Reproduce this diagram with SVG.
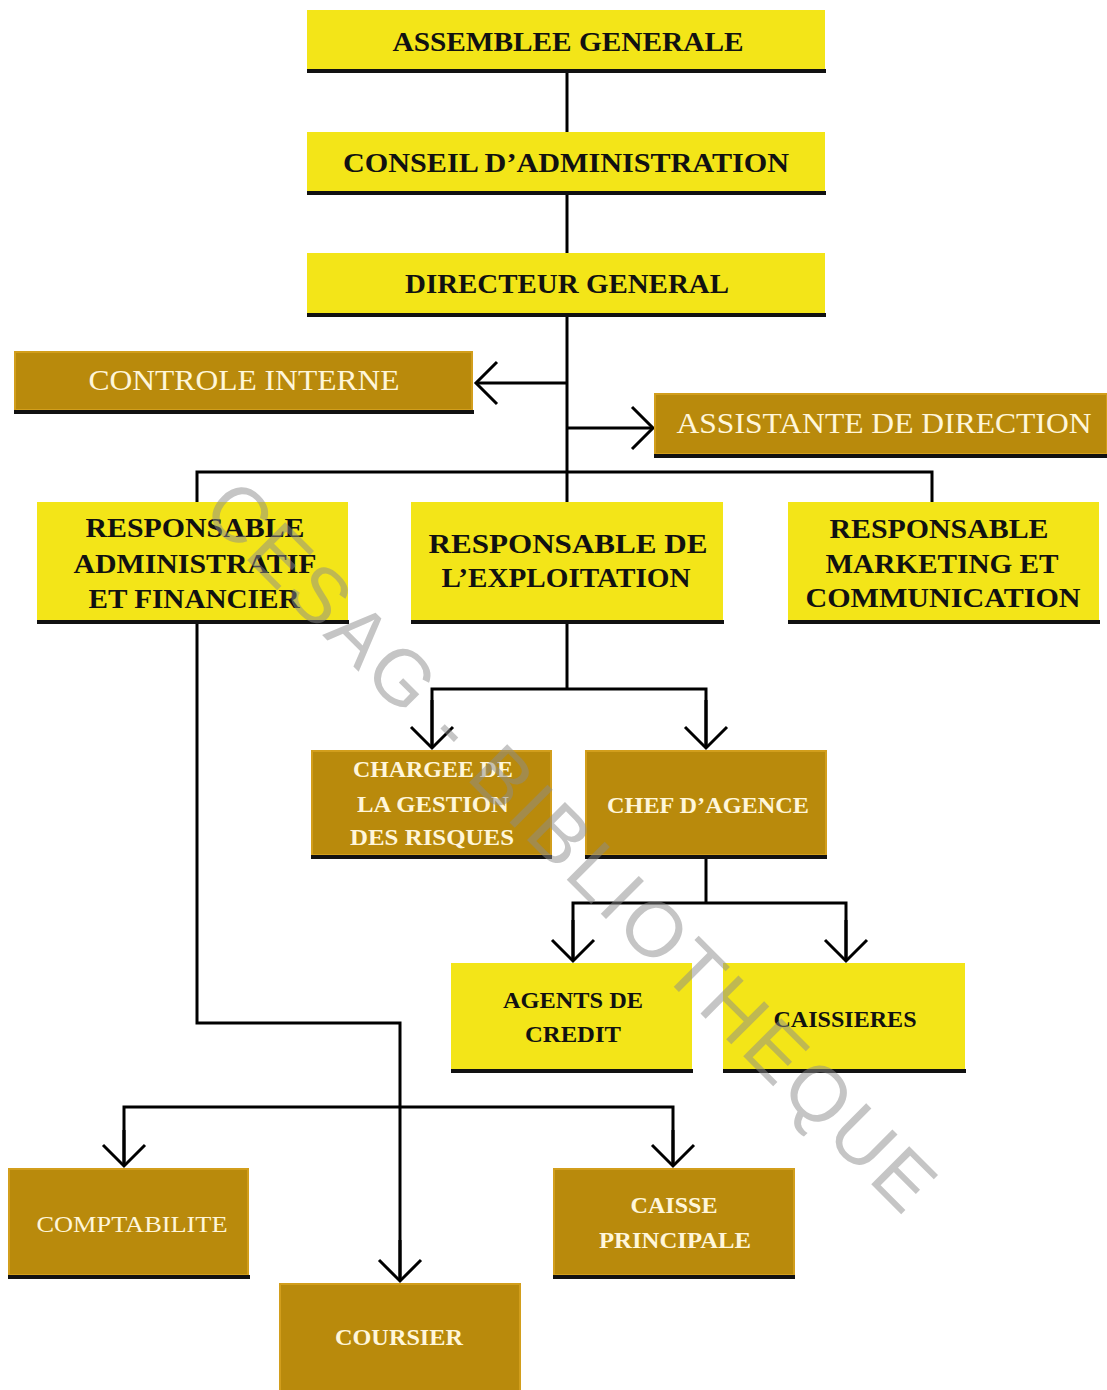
<svg xmlns="http://www.w3.org/2000/svg" width="1107" height="1390" viewBox="0 0 1107 1390">
<style>
.y{fill:#F3E518;}
.d{fill:#B98A0C;stroke:#D29E1C;stroke-width:2;}
.sh{fill:#111;}
.tb{font-family:"Liberation Serif","Times New Roman",serif;font-weight:bold;fill:#111;text-anchor:middle;}
.tc{font-family:"Liberation Serif","Times New Roman",serif;fill:#FFF6DA;text-anchor:middle;}
.ln{fill:none;stroke:#000;stroke-width:3;}
.wm{font-family:"Liberation Sans",Arial,sans-serif;fill:#8c8c8c;opacity:0.5;}
</style>
<defs>
<marker id="chev" markerUnits="userSpaceOnUse" markerWidth="30" markerHeight="50" refX="24" refY="22" orient="auto" overflow="visible">
<path d="M3,1 L24,22 L3,43" fill="none" stroke="#000" stroke-width="3"/>
</marker>
</defs>
<rect width="1107" height="1390" fill="#fff"/>

<g id="connectors" class="ln">
<line x1="567" y1="72" x2="567" y2="132"/>
<line x1="567" y1="194" x2="567" y2="253"/>
<line x1="567" y1="316" x2="567" y2="502"/>
<line x1="567" y1="383" x2="476" y2="383" marker-end="url(#chev)"/>
<line x1="567" y1="428" x2="653" y2="428" marker-end="url(#chev)"/>
<polyline points="197,502 197,472 932,472 932,502"/>
<line x1="567" y1="624" x2="567" y2="689"/>
<polyline points="432,748 432,689 706,689 706,748"/>
<line x1="432" y1="700" x2="432" y2="748" marker-end="url(#chev)"/>
<line x1="706" y1="700" x2="706" y2="748" marker-end="url(#chev)"/>
<line x1="706" y1="858" x2="706" y2="903"/>
<polyline points="573,961 573,903 846,903 846,961"/>
<line x1="573" y1="920" x2="573" y2="961" marker-end="url(#chev)"/>
<line x1="846" y1="920" x2="846" y2="961" marker-end="url(#chev)"/>
<polyline points="197,624 197,1023 400,1023 400,1281"/>
<line x1="400" y1="1240" x2="400" y2="1281" marker-end="url(#chev)"/>
<polyline points="124,1166 124,1107 673,1107 673,1166"/>
<line x1="124" y1="1130" x2="124" y2="1166" marker-end="url(#chev)"/>
<line x1="673" y1="1130" x2="673" y2="1166" marker-end="url(#chev)"/>
</g>

<g id="assemblee">
<rect class="y" x="307" y="10" width="518" height="60"/>
<rect class="sh" x="307" y="69" width="519" height="4"/>
<text class="tb" x="568" y="51" font-size="28" textLength="351" lengthAdjust="spacingAndGlyphs">ASSEMBLEE GENERALE</text>
</g>
<g id="conseil">
<rect class="y" x="307" y="132" width="518" height="60"/>
<rect class="sh" x="307" y="191" width="519" height="4"/>
<text class="tb" x="566" y="172" font-size="27" textLength="446" lengthAdjust="spacingAndGlyphs">CONSEIL D’ADMINISTRATION</text>
</g>
<g id="directeur">
<rect class="y" x="307" y="253" width="518" height="61"/>
<rect class="sh" x="307" y="313" width="519" height="4"/>
<text class="tb" x="567" y="293" font-size="27" textLength="324" lengthAdjust="spacingAndGlyphs">DIRECTEUR GENERAL</text>
</g>
<g id="controle">
<rect class="d" x="15" y="352" width="457" height="58"/>
<rect class="sh" x="14" y="410" width="460" height="4"/>
<text class="tc" x="244" y="390" font-size="29" textLength="311" lengthAdjust="spacingAndGlyphs">CONTROLE INTERNE</text>
</g>
<g id="assistante">
<rect class="d" x="655" y="394" width="452" height="60"/>
<rect class="sh" x="654" y="454" width="453" height="4"/>
<text class="tc" x="884" y="433" font-size="29" textLength="415" lengthAdjust="spacingAndGlyphs">ASSISTANTE DE DIRECTION</text>
</g>
<g id="raf">
<rect class="y" x="37" y="502" width="311" height="119"/>
<rect class="sh" x="37" y="620" width="312" height="4"/>
<text class="tb" x="195" y="537" font-size="28" textLength="219" lengthAdjust="spacingAndGlyphs">RESPONSABLE</text>
<text class="tb" x="195" y="573" font-size="28" textLength="243" lengthAdjust="spacingAndGlyphs">ADMINISTRATIF</text>
<text class="tb" x="194" y="608" font-size="28" textLength="211" lengthAdjust="spacingAndGlyphs">ET FINANCIER</text>
</g>
<g id="rexp">
<rect class="y" x="411" y="502" width="312" height="119"/>
<rect class="sh" x="411" y="620" width="313" height="4"/>
<text class="tb" x="568" y="553" font-size="28" textLength="279" lengthAdjust="spacingAndGlyphs">RESPONSABLE  DE</text>
<text class="tb" x="566" y="587" font-size="28" textLength="249" lengthAdjust="spacingAndGlyphs">L’EXPLOITATION</text>
</g>
<g id="rmkt">
<rect class="y" x="788" y="502" width="311" height="119"/>
<rect class="sh" x="788" y="620" width="312" height="4"/>
<text class="tb" x="939" y="538" font-size="28" textLength="219" lengthAdjust="spacingAndGlyphs">RESPONSABLE</text>
<text class="tb" x="942" y="573" font-size="28" textLength="233" lengthAdjust="spacingAndGlyphs">MARKETING ET</text>
<text class="tb" x="943" y="607" font-size="28" textLength="275" lengthAdjust="spacingAndGlyphs">COMMUNICATION</text>
</g>
<g id="chargee">
<rect class="d" x="312" y="751" width="239" height="104"/>
<rect class="sh" x="311" y="855" width="241" height="4"/>
<text class="tc" x="433" y="777" font-size="24" font-weight="bold" textLength="160" lengthAdjust="spacingAndGlyphs">CHARGEE DE</text>
<text class="tc" x="433" y="812" font-size="24" font-weight="bold" textLength="152" lengthAdjust="spacingAndGlyphs">LA GESTION</text>
<text class="tc" x="432" y="845" font-size="24" font-weight="bold" textLength="164" lengthAdjust="spacingAndGlyphs">DES RISQUES</text>
</g>
<g id="chef">
<rect class="d" x="586" y="751" width="240" height="104"/>
<rect class="sh" x="585" y="855" width="242" height="4"/>
<text class="tc" x="708" y="813" font-size="23" font-weight="bold" textLength="202" lengthAdjust="spacingAndGlyphs">CHEF D’AGENCE</text>
</g>
<g id="agents">
<rect class="y" x="451" y="963" width="241" height="106"/>
<rect class="sh" x="451" y="1069" width="242" height="4"/>
<text class="tb" x="573" y="1008" font-size="24" textLength="140" lengthAdjust="spacingAndGlyphs">AGENTS DE</text>
<text class="tb" x="573" y="1042" font-size="24" textLength="96" lengthAdjust="spacingAndGlyphs">CREDIT</text>
</g>
<g id="caissieres">
<rect class="y" x="723" y="963" width="242" height="106"/>
<rect class="sh" x="723" y="1069" width="243" height="4"/>
<text class="tb" x="845" y="1027" font-size="24" textLength="143" lengthAdjust="spacingAndGlyphs">CAISSIERES</text>
</g>
<g id="comptabilite">
<rect class="d" x="9" y="1169" width="239" height="106"/>
<rect class="sh" x="8" y="1275" width="242" height="4"/>
<text class="tc" x="132" y="1232" font-size="24" textLength="191" lengthAdjust="spacingAndGlyphs">COMPTABILITE</text>
</g>
<g id="caisse">
<rect class="d" x="554" y="1169" width="240" height="106"/>
<rect class="sh" x="553" y="1275" width="242" height="4"/>
<text class="tc" x="674" y="1213" font-size="23" font-weight="bold" textLength="87" lengthAdjust="spacingAndGlyphs">CAISSE</text>
<text class="tc" x="675" y="1248" font-size="23" font-weight="bold" textLength="152" lengthAdjust="spacingAndGlyphs">PRINCIPALE</text>
</g>
<g id="coursier">
<rect class="d" x="280" y="1284" width="240" height="110"/>
<text class="tc" x="399" y="1345" font-size="23" font-weight="bold" textLength="128" lengthAdjust="spacingAndGlyphs">COURSIER</text>
</g>

<text class="wm" transform="translate(200,513) rotate(45)" x="0" y="0" font-size="78" textLength="995" lengthAdjust="spacing">CESAG - BIBLIOTHEQUE</text>
</svg>
